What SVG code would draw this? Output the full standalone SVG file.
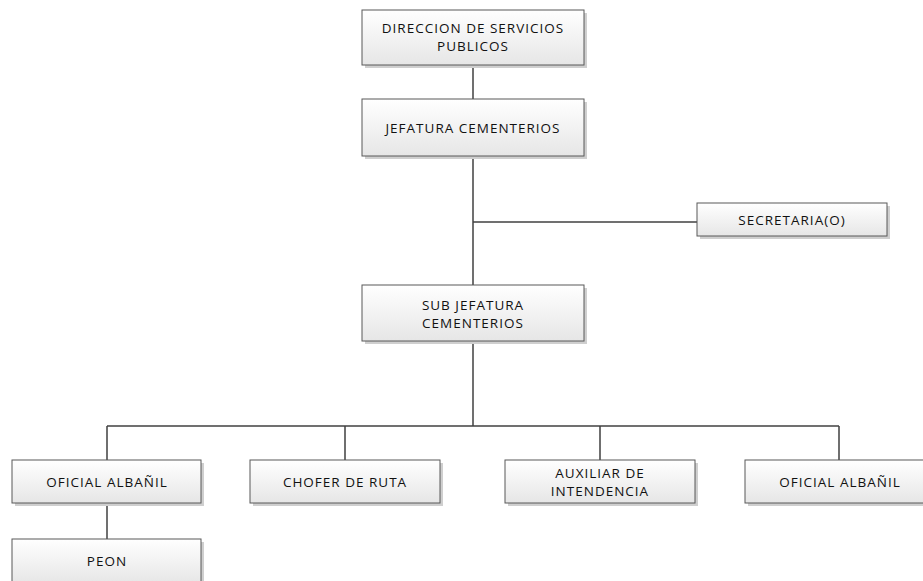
<svg xmlns="http://www.w3.org/2000/svg" width="923" height="581" viewBox="0 0 923 581">
<defs>
<linearGradient id="g" x1="0" y1="0" x2="0" y2="1">
<stop offset="0" stop-color="#ffffff"/>
<stop offset="1" stop-color="#e6e6e6"/>
</linearGradient>
<style>
.box{fill:url(#g);stroke:#595959;stroke-width:1}
.sh{fill:#cfcfcf}
.t{font-family:"Open Sans","Liberation Sans",sans-serif;font-size:13.5px;letter-spacing:1px;fill:#111111;text-anchor:middle}
.c{stroke:#404040;stroke-width:1.5;fill:none}
</style>
</defs>
<rect width="923" height="581" fill="#ffffff"/>
<g id="connectors">
<path class="c" d="M473 65V99"/>
<path class="c" d="M473 156V285"/>
<path class="c" d="M473 222H697"/>
<path class="c" d="M473 341V426"/>
<path class="c" d="M107 426H839"/>
<path class="c" d="M107 426V460M345 426V460M600 426V460M839 426V460"/>
<path class="c" d="M107 503V539"/>
</g>
<g id="n1"><rect class="sh" x="365" y="13" width="222" height="55"/><rect class="box" x="362" y="10" width="222" height="55"/><text class="t" x="473" y="33">DIRECCION DE SERVICIOS</text><text class="t" x="473" y="51">PUBLICOS</text></g>
<g id="n2"><rect class="sh" x="365" y="102" width="222" height="57"/><rect class="box" x="362" y="99" width="222" height="57"/><text class="t" x="473" y="133">JEFATURA CEMENTERIOS</text></g>
<g id="n3"><rect class="sh" x="700" y="206" width="190" height="33"/><rect class="box" x="697" y="203" width="190" height="33"/><text class="t" x="792" y="225">SECRETARIA(O)</text></g>
<g id="n4"><rect class="sh" x="365" y="288" width="222" height="56"/><rect class="box" x="362" y="285" width="222" height="56"/><text class="t" x="473" y="310">SUB JEFATURA</text><text class="t" x="473" y="328">CEMENTERIOS</text></g>
<g id="n5"><rect class="sh" x="15" y="463" width="189" height="43"/><rect class="box" x="12" y="460" width="189" height="43"/><text class="t" x="107" y="487">OFICIAL ALBAÑIL</text></g>
<g id="n6"><rect class="sh" x="253" y="463" width="190" height="43"/><rect class="box" x="250" y="460" width="190" height="43"/><text class="t" x="345" y="487">CHOFER DE RUTA</text></g>
<g id="n7"><rect class="sh" x="508" y="463" width="190" height="43"/><rect class="box" x="505" y="460" width="190" height="43"/><text class="t" x="600" y="478">AUXILIAR DE</text><text class="t" x="600" y="496">INTENDENCIA</text></g>
<g id="n8"><rect class="sh" x="748" y="463" width="190" height="43"/><rect class="box" x="745" y="460" width="190" height="43"/><text class="t" x="840" y="487">OFICIAL ALBAÑIL</text></g>
<g id="n9"><rect class="sh" x="15" y="542" width="189" height="45"/><rect class="box" x="12" y="539" width="189" height="45"/><text class="t" x="107" y="566">PEON</text></g>
</svg>
